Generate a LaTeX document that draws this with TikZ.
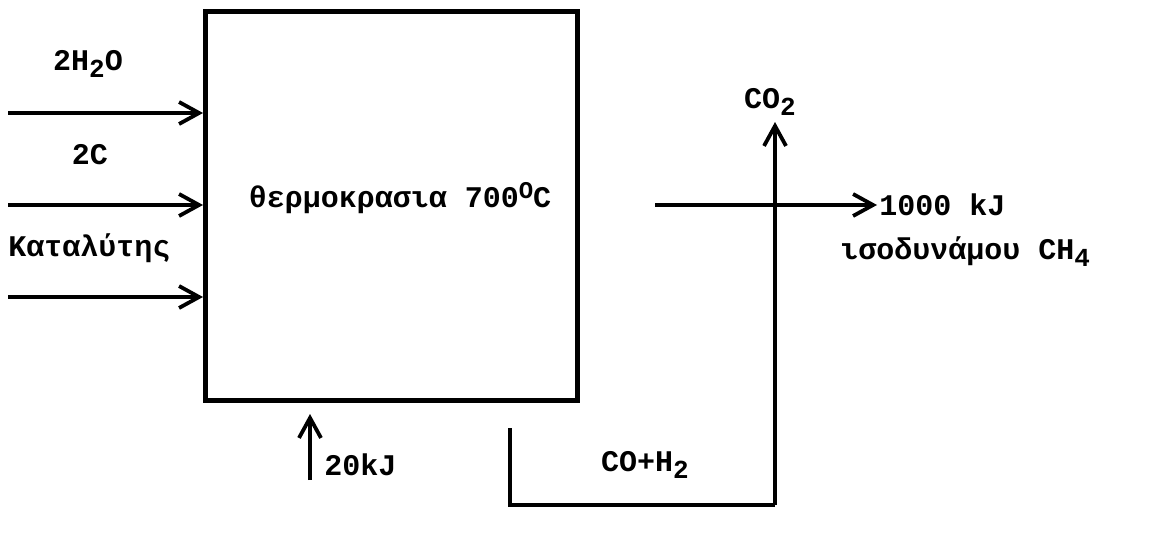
\documentclass[tikz,border=0pt]{standalone}
\usepackage{fontspec}
\setmainfont{Liberation Mono}
\usetikzlibrary{arrows.meta, positioning}

\newcommand{\chemsub}[1]{\raisebox{-0.45ex}{\fontsize{13}{13}\selectfont #1}}
\newcommand{\chemsup}[1]{\raisebox{0.6ex}{\fontsize{12}{12}\selectfont #1}}

\tikzset{
  flow/.style={line width=2pt, -{Straight Barb[length=10pt, width=11pt, line width=1.9pt]}},
  pipe/.style={line width=2pt},
  lbl/.style={font=\bfseries\fontsize{15}{17}\selectfont, inner sep=1pt}
}

\begin{document}
\begin{tikzpicture}[x=0.5pt, y=-0.5pt]
  \useasboundingbox (0,0) rectangle (1154,535);

  % reactor
  \node[draw, line width=2.5pt, minimum width=186pt, minimum height=194pt, inner sep=0pt] (reactor) at (391.5,206) {};
  \node[lbl] (temp) at (400,198) {θερμοκρασια 700\chemsup{O}C};

  % inputs
  \coordinate (in1) at (8,113);
  \coordinate (in2) at (8,205);
  \coordinate (in3) at (8,297);
  \draw[flow] (in1) -- (in1 -| reactor.west);
  \draw[flow] (in2) -- (in2 -| reactor.west);
  \draw[flow] (in3) -- (in3 -| reactor.west);
  \node[lbl] (water) at (88,64) {2H\chemsub{2}O};
  \node[lbl] (carbon) at (90,155) {2C};
  \node[lbl, anchor=west] (cat) at (6,248) {Καταλύτης};

  % heat input
  \coordinate (heat) at (310,480);
  \draw[flow] (heat) -- (310,414);
  \node[lbl, anchor=west] (heatlbl) at (322,465) {20kJ};

  % product
  \coordinate (outstart) at (655,205);
  \node[lbl, anchor=west] (energy) at (877,205) {1000 kJ};
  \node[lbl, anchor=west] (methane) at (838,252) {ισοδυνάμου CH\chemsub{4}};
  \draw[flow] (outstart) -- (energy.west);

  % recycle
  \node[lbl] (co2) at (770,102) {CO\chemsub{2}};
  \node[lbl] (syngas) at (645,465) {CO+H\chemsub{2}};
  \coordinate (ret1) at (510,428);
  \coordinate (ret2) at (510,505);
  \coordinate (ret3) at (775,505);
  \draw[pipe] (ret1) -- (ret2) -- (ret3);
  \draw[flow] (ret3) -- (775,122);
\end{tikzpicture}
\end{document}
